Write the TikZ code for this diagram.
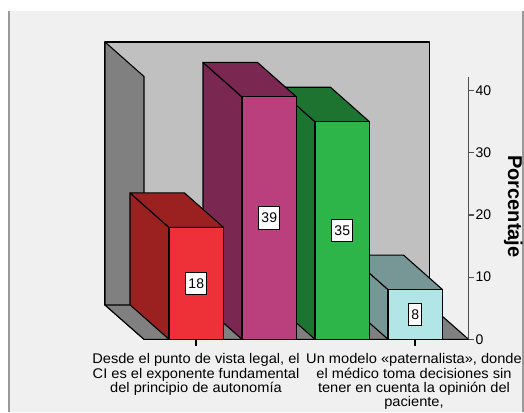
\documentclass[tikz,border=0pt]{standalone}
\usepackage{fontspec}
\setmainfont{Liberation Sans}
\newfontfamily\labfont[FakeStretch=1.045]{Liberation Sans}
\definecolor{bgc}{HTML}{F0F0F0}
\definecolor{wallback}{HTML}{C0C0C0}
\definecolor{wallside}{HTML}{808080}
\definecolor{frontA}{HTML}{EE3038}
\definecolor{sideA}{HTML}{9B2020}
\definecolor{frontB}{HTML}{BA3F7D}
\definecolor{sideB}{HTML}{7A2752}
\definecolor{frontC}{HTML}{2DB54A}
\definecolor{sideC}{HTML}{1D7430}
\definecolor{frontD}{HTML}{B2E5E5}
\definecolor{sideD}{HTML}{779797}
\definecolor{framec}{HTML}{9A9A9A}
\definecolor{axisc}{HTML}{505050}
\begin{document}
\begin{tikzpicture}[x=1pt,y=-1pt,
  edge/.style={draw=black,line width=1.1pt,line join=round},
  vallabel/.style={draw=black,fill=white,line width=0.9pt,font=\fontsize{14}{16}\selectfont,inner xsep=2.6pt,inner ysep=0pt,minimum height=22.5pt},
  ticklab/.style={anchor=west,font=\fontsize{14}{16}\selectfont,inner sep=0pt},
  catlab/.style={anchor=north,align=center,inner sep=0pt,font=\labfont\fontsize{14}{14.2}\selectfont},
  axisline/.style={draw=axisc,line width=1.1pt}]
\useasboundingbox (0,0) rectangle (524,412);
\fill[white] (0,0) rectangle (524,412);
\fill[bgc] (9,11) rectangle (523,412);
\draw[framec,line width=1.5pt] (9,11) -- (9,412);
\draw[framec,line width=1.5pt] (523,11) -- (523,412);
% walls and floor
\path[edge,fill=wallback] (105,42) rectangle (429.5,305);
\path[edge,fill=wallside] (105,42) -- (144,76.5) -- (144,339.3) -- (105,305) -- cycle;
\path[edge,fill=wallside] (105,305) -- (429.5,305) -- (468.5,339.3) -- (144,339.3) -- cycle;
% bars (right to left)
\foreach \L/\v/\fc/\sc/\nm in {388/8/frontD/sideD/d, 315/35/frontC/sideC/c, 242/39/frontB/sideB/b, 169/18/frontA/sideA/a} {
  \pgfmathsetmacro\T{339.3-6.215*\v}
  \path[edge,fill=\sc] ({\L-39},{\T-34.5}) -- (\L,\T) -- (\L,339.3) -- ({\L-39},304.8) -- cycle;
  \path[edge,fill=\sc] ({\L-39},{\T-34.5}) -- ({\L+54.5-39},{\T-34.5}) -- ({\L+54.5},\T) -- (\L,\T) -- cycle;
  \path[edge,fill=\fc] (\L,\T) rectangle ({\L+54.5},339.3);
  \node[vallabel] (val\nm) at ({\L+27.25},{(\T+339.3)/2}) {\v};
}
% value axis
\draw[axisline] (468.5,76.5) -- (468.5,339.3);
\foreach \v in {0,10,20,30,40} {
  \draw[axisline] (468.5,{339.3-6.215*\v}) -- (474,{339.3-6.215*\v});
  \node[ticklab] (tick\v) at (475.5,{339.3-6.215*\v}) {\v};
}
\node[font=\bfseries\fontsize{20}{24}\selectfont,rotate=-90,anchor=base,inner sep=0pt] (ytitle) at (508,206.5) {Porcentaje};
% category axis
\draw[black,line width=1.1pt] (196,339.3) -- (196,346);
\draw[black,line width=1.1pt] (415,339.3) -- (415,346);
\node[catlab] (cat1) at (196,353.5) {Desde el punto de vista legal, el\\CI es el exponente fundamental\\del principio de autonomía};
\node[catlab] (cat2) at (414,353.5) {Un modelo «paternalista», donde\\el médico toma decisiones sin\\tener en cuenta la opinión del\\paciente,};
\end{tikzpicture}
\end{document}
